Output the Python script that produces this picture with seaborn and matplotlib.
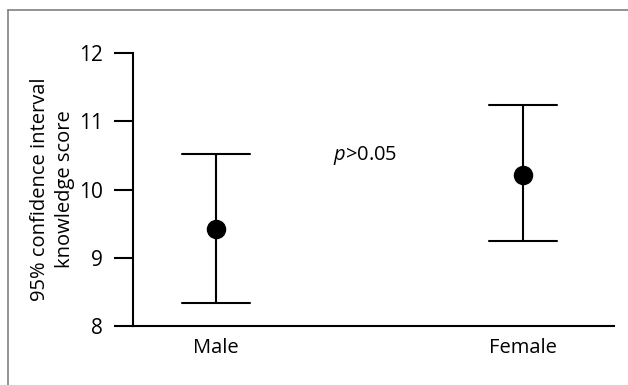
import matplotlib
matplotlib.use("Agg")
import matplotlib.pyplot as plt
import seaborn as sns
import pandas as pd
from matplotlib.lines import Line2D

groups = ["Male", "Female"]
means = [9.42, 10.22]
lowers = [8.33, 9.24]
uppers = [10.52, 11.24]
y_ticks = [8, 9, 10, 11, 12]
annotation = "$\\it{p}$>0.05"

rows = []
for g, lo, m, up in zip(groups, lowers, means, uppers):
    for v in (lo, m, up):
        rows.append({"group": g, "score": v})
df = pd.DataFrame(rows)

sns.set_style("white")
plt.rcParams["font.family"] = ["Open Sans", "DejaVu Sans"]
plt.rcParams["mathtext.fontset"] = "custom"
plt.rcParams["mathtext.it"] = "Open Sans:italic"
plt.rcParams["text.color"] = "black"
plt.rcParams["axes.labelcolor"] = "black"
plt.rcParams["xtick.color"] = "black"
plt.rcParams["ytick.color"] = "black"

fig = plt.figure(figsize=(6.28, 3.85), dpi=100)
ax = fig.add_axes([0.2118, 0.1532, 0.7659, 0.7091])

sns.pointplot(data=df, x="group", y="score", order=groups,
              estimator="median", errorbar=("pi", 100),
              color="black", linestyle="none", markers="o",
              markersize=12, capsize=0.22,
              err_kws={"linewidth": 1.5}, ax=ax)

ax.set_xlim(-0.27, 1.296)
ax.set_ylim(8, 12)
ax.set_yticks(y_ticks)
ax.set_yticklabels([str(t) for t in y_ticks])
ax.set_xlabel("")
ax.set_ylabel("95% confidence interval\nknowledge score", fontsize=14.5, labelpad=3,
              linespacing=1.35, color="black")
for s in ["top", "right"]:
    ax.spines[s].set_visible(False)
for s in ["left", "bottom"]:
    ax.spines[s].set_color("black")
    ax.spines[s].set_linewidth(1.5)
ax.tick_params(axis="y", which="both", left=True, length=13.5, width=1.5,
               direction="out", pad=8, labelsize=15, color="black",
               labelcolor="black")
ax.tick_params(axis="x", bottom=False, labelsize=14.5, pad=5, labelcolor="black")

ax.text(0.38, 10.5, annotation, fontsize=14.5, ha="left", va="center", color="black")

fig.add_artist(Line2D([8/628, 1.0], [1 - 9.5/385, 1 - 9.5/385],
                      transform=fig.transFigure, color="#808080", linewidth=1.2))
fig.add_artist(Line2D([8/628, 8/628], [1 - 9.5/385, 0.0],
                      transform=fig.transFigure, color="#808080", linewidth=1.2))

fig.savefig("out.png", dpi=100)
